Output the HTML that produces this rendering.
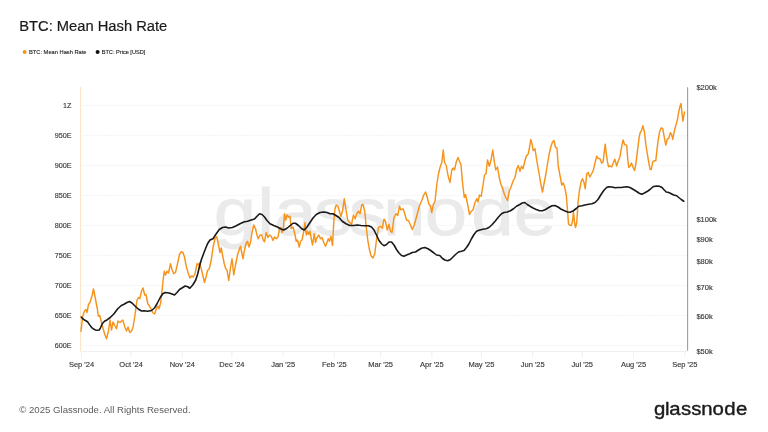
<!DOCTYPE html>
<html lang="en"><head><meta charset="utf-8"><title>BTC: Mean Hash Rate</title>
<style>
html,body{margin:0;padding:0;background:#fff;}
body{width:768px;height:432px;overflow:hidden;font-family:"Liberation Sans",sans-serif;}
svg{display:block;}
text{font-family:"Liberation Sans",sans-serif;}
</style></head><body>
<svg width="768" height="432" viewBox="0 0 768 432">
<rect width="768" height="432" fill="#fff"/>
<text id="wm" transform="scale(1.1387,1)" x="187.63 226.01 240.92 275.85 306.28 336.36 373.09 413.81 451.08" y="234.6" font-size="67" fill="#eaeaea" stroke="#eaeaea" stroke-width="0.8" stroke-linejoin="round">glassnode</text>
<line x1="82" x2="687" y1="105.4" y2="105.4" stroke="#f0f0f0" stroke-width="0.75" stroke-dasharray="1.3,0.4"/>
<line x1="82" x2="687" y1="135.4" y2="135.4" stroke="#f0f0f0" stroke-width="0.75" stroke-dasharray="1.3,0.4"/>
<line x1="82" x2="687" y1="165.4" y2="165.4" stroke="#f0f0f0" stroke-width="0.75" stroke-dasharray="1.3,0.4"/>
<line x1="82" x2="687" y1="195.4" y2="195.4" stroke="#f0f0f0" stroke-width="0.75" stroke-dasharray="1.3,0.4"/>
<line x1="82" x2="687" y1="225.4" y2="225.4" stroke="#f0f0f0" stroke-width="0.75" stroke-dasharray="1.3,0.4"/>
<line x1="82" x2="687" y1="255.4" y2="255.4" stroke="#f0f0f0" stroke-width="0.75" stroke-dasharray="1.3,0.4"/>
<line x1="82" x2="687" y1="285.4" y2="285.4" stroke="#f0f0f0" stroke-width="0.75" stroke-dasharray="1.3,0.4"/>
<line x1="82" x2="687" y1="315.4" y2="315.4" stroke="#f0f0f0" stroke-width="0.75" stroke-dasharray="1.3,0.4"/>
<line x1="82" x2="687" y1="345.4" y2="345.4" stroke="#f0f0f0" stroke-width="0.75" stroke-dasharray="1.3,0.4"/>
<line x1="80.6" x2="80.6" y1="87" y2="351.5" stroke="#fcdfba" stroke-width="0.9"/>
<line x1="687.6" x2="687.6" y1="87.3" y2="350.8" stroke="#989ba2" stroke-width="1.05"/>
<line x1="81" x2="687.5" y1="351.5" y2="351.5" stroke="#ececec" stroke-width="0.8"/>
<line x1="81.50" x2="81.50" y1="351.5" y2="357.5" stroke="#ebebeb" stroke-width="0.8"/>
<line x1="131.08" x2="131.08" y1="351.5" y2="357.5" stroke="#ebebeb" stroke-width="0.8"/>
<line x1="182.32" x2="182.32" y1="351.5" y2="357.5" stroke="#ebebeb" stroke-width="0.8"/>
<line x1="231.90" x2="231.90" y1="351.5" y2="357.5" stroke="#ebebeb" stroke-width="0.8"/>
<line x1="283.13" x2="283.13" y1="351.5" y2="357.5" stroke="#ebebeb" stroke-width="0.8"/>
<line x1="334.37" x2="334.37" y1="351.5" y2="357.5" stroke="#ebebeb" stroke-width="0.8"/>
<line x1="380.65" x2="380.65" y1="351.5" y2="357.5" stroke="#ebebeb" stroke-width="0.8"/>
<line x1="431.88" x2="431.88" y1="351.5" y2="357.5" stroke="#ebebeb" stroke-width="0.8"/>
<line x1="481.46" x2="481.46" y1="351.5" y2="357.5" stroke="#ebebeb" stroke-width="0.8"/>
<line x1="532.70" x2="532.70" y1="351.5" y2="357.5" stroke="#ebebeb" stroke-width="0.8"/>
<line x1="582.28" x2="582.28" y1="351.5" y2="357.5" stroke="#ebebeb" stroke-width="0.8"/>
<line x1="633.52" x2="633.52" y1="351.5" y2="357.5" stroke="#ebebeb" stroke-width="0.8"/>
<line x1="684.75" x2="684.75" y1="351.5" y2="357.5" stroke="#ebebeb" stroke-width="0.8"/>
<path d="M81.00,331.25 L82.75,316.00 L84.50,311.00 L86.00,309.50 L87.00,312.50 L88.50,304.50 L90.00,302.50 L92.00,296.00 L93.50,289.00 L94.70,295.00 L95.60,300.00 L97.20,308.00 L98.30,316.00 L99.75,315.50 L101.50,322.50 L103.50,330.00 L105.00,335.00 L106.50,338.75 L108.50,331.00 L110.00,320.00 L111.50,330.00 L113.00,322.00 L115.00,326.00 L116.50,328.75 L118.00,321.00 L120.00,322.50 L122.75,320.00 L125.00,327.50 L126.50,331.00 L128.00,327.00 L129.75,332.50 L131.50,331.00 L133.00,327.50 L135.00,315.00 L137.00,300.00 L138.50,297.50 L139.75,298.75 L141.50,291.00 L143.00,288.00 L144.75,295.00 L146.00,294.50 L147.75,303.75 L149.50,306.00 L151.50,310.00 L153.00,313.00 L154.50,314.00 L156.50,308.75 L157.75,306.00 L159.00,308.75 L160.60,303.00 L162.20,288.75 L163.60,276.25 L164.25,271.25 L165.50,275.00 L167.00,271.25 L168.50,273.00 L170.50,263.75 L172.00,269.50 L173.75,273.75 L175.50,272.50 L177.50,263.75 L179.50,254.50 L181.25,251.75 L183.00,252.50 L184.50,257.00 L186.25,266.25 L188.00,272.50 L190.00,278.00 L191.75,275.75 L193.25,277.00 L195.00,273.75 L197.00,263.75 L198.25,265.00 L199.50,263.00 L201.25,268.75 L203.00,276.25 L204.50,282.50 L206.25,276.25 L207.50,270.50 L209.25,268.75 L211.25,260.00 L213.25,246.25 L215.00,238.75 L216.75,236.75 L218.25,243.75 L220.00,252.50 L221.25,248.00 L222.50,255.00 L224.25,263.75 L225.75,268.75 L227.00,270.00 L228.75,280.50 L230.50,267.50 L232.00,258.75 L233.75,275.00 L235.50,265.00 L237.50,255.00 L239.50,248.75 L240.50,246.25 L241.75,252.50 L243.00,258.75 L244.50,250.00 L246.25,243.00 L247.50,241.25 L249.00,247.00 L250.50,242.50 L252.00,232.50 L253.75,225.00 L255.50,228.75 L257.00,235.00 L258.25,238.75 L260.00,235.00 L261.75,235.00 L263.25,240.00 L264.50,241.75 L266.25,232.50 L268.00,237.50 L269.50,235.00 L271.25,236.25 L273.00,240.50 L274.50,237.00 L276.25,238.75 L278.00,237.00 L279.50,228.75 L280.75,227.50 L282.00,232.50 L283.25,230.00 L284.50,213.75 L285.75,220.00 L287.00,215.00 L288.50,217.00 L290.00,216.25 L291.25,228.75 L293.00,227.00 L294.50,232.50 L296.25,241.25 L297.50,240.00 L299.25,247.00 L300.50,241.25 L302.00,240.00 L303.75,231.25 L305.00,222.50 L306.25,235.00 L307.50,231.25 L308.75,234.50 L310.00,231.25 L311.25,238.75 L312.50,245.00 L314.25,233.75 L315.50,242.50 L317.00,237.50 L318.75,235.00 L320.50,238.75 L322.00,237.50 L323.75,242.50 L325.50,246.25 L327.00,242.50 L328.25,238.75 L329.50,241.25 L331.00,236.25 L332.50,245.50 L333.75,222.50 L335.00,208.75 L336.25,205.00 L338.00,206.25 L339.75,212.50 L341.00,216.25 L342.75,210.00 L344.25,198.75 L346.00,210.00 L347.75,220.00 L349.75,222.50 L351.50,224.50 L353.50,215.00 L355.25,218.75 L356.75,213.75 L358.50,211.25 L360.00,213.75 L361.75,205.00 L363.00,204.50 L364.75,211.25 L366.00,225.00 L367.75,240.00 L369.25,248.75 L371.00,255.75 L373.00,258.00 L374.75,253.75 L376.50,240.00 L378.50,227.50 L380.25,226.25 L382.25,228.00 L384.00,219.25 L385.50,221.25 L387.25,230.00 L389.00,224.50 L390.50,231.25 L392.00,232.50 L394.00,217.50 L396.00,213.75 L397.75,215.50 L399.50,206.25 L401.00,210.00 L403.00,208.75 L404.75,213.75 L406.50,220.00 L408.50,220.75 L410.25,224.50 L412.25,229.50 L414.25,225.00 L416.00,218.75 L418.00,211.25 L419.75,205.00 L422.00,200.00 L423.75,195.00 L425.50,192.00 L427.00,196.25 L428.75,203.75 L430.50,206.25 L431.75,212.50 L433.25,205.00 L435.00,201.25 L436.75,185.00 L438.25,175.00 L440.00,167.50 L441.75,162.50 L443.25,150.00 L444.50,162.50 L446.25,165.50 L448.00,175.50 L450.00,182.50 L451.75,170.00 L453.25,168.00 L454.50,170.00 L456.25,162.00 L458.00,157.50 L459.50,161.25 L461.00,165.00 L462.50,182.50 L464.25,197.50 L465.50,194.50 L467.50,203.75 L469.50,214.50 L471.25,211.25 L473.00,210.00 L475.00,202.50 L476.75,198.75 L478.00,202.00 L479.50,195.00 L481.25,196.25 L483.00,185.00 L484.50,175.00 L486.00,173.75 L487.50,160.00 L489.25,166.25 L491.00,160.00 L492.75,150.00 L494.25,161.25 L495.75,170.00 L497.50,167.00 L499.25,177.50 L500.75,183.75 L502.50,188.00 L504.25,193.75 L505.75,197.50 L507.50,200.50 L509.25,191.25 L511.25,186.25 L513.00,181.25 L515.00,177.50 L516.75,168.75 L518.25,165.50 L520.00,171.25 L521.50,166.25 L523.00,168.75 L524.50,162.50 L526.25,156.25 L528.25,153.75 L529.50,147.50 L530.75,139.50 L532.00,143.75 L533.25,150.50 L535.00,148.75 L536.50,158.75 L538.00,167.50 L539.50,176.25 L541.00,185.00 L542.50,192.00 L544.00,183.75 L545.75,175.00 L547.50,163.75 L549.25,153.75 L551.00,146.25 L552.50,142.00 L554.00,140.50 L555.50,147.50 L557.00,148.00 L558.25,166.25 L560.00,175.50 L561.75,185.00 L563.25,183.00 L564.50,186.25 L566.25,195.00 L567.50,210.00 L568.50,223.75 L569.50,225.00 L571.25,225.50 L572.50,221.25 L573.50,212.00 L574.50,222.50 L575.50,227.50 L576.75,222.50 L578.00,202.50 L579.50,190.00 L581.25,181.25 L582.50,178.75 L584.00,182.50 L585.25,188.75 L586.75,173.50 L588.25,172.50 L589.80,177.00 L591.70,173.75 L593.30,170.20 L595.00,163.00 L596.70,156.25 L598.10,158.30 L600.00,158.75 L601.70,163.30 L603.10,161.90 L604.20,152.50 L605.20,144.20 L606.25,153.50 L607.50,161.90 L608.50,166.70 L610.00,166.00 L611.70,167.00 L613.10,163.30 L614.80,159.20 L616.70,166.00 L618.30,160.80 L620.00,156.70 L621.50,147.30 L623.10,140.00 L624.60,144.60 L626.70,145.20 L627.70,158.75 L628.75,167.50 L630.20,166.00 L631.50,163.00 L632.90,167.00 L634.60,170.60 L636.00,163.00 L637.50,150.40 L639.20,136.90 L640.20,132.70 L641.70,130.00 L642.90,125.80 L644.40,131.70 L645.80,144.20 L647.10,152.50 L648.50,160.80 L650.00,169.20 L651.25,169.60 L652.70,161.90 L654.20,160.80 L655.80,160.80 L656.90,150.40 L658.30,139.00 L659.60,131.70 L661.00,127.90 L662.70,128.50 L664.20,136.90 L665.80,145.20 L667.30,139.00 L668.75,138.30 L670.40,132.70 L671.70,134.80 L672.70,139.40 L674.20,131.70 L675.80,125.40 L677.30,120.20 L678.75,111.90 L680.00,106.25 L681.00,103.50 L682.10,114.00 L682.90,121.25 L683.75,116.00 L684.60,111.90" fill="none" stroke="#f7931a" stroke-width="1.45" stroke-linejoin="round" stroke-linecap="round"/>
<path d="M81.20,317.00 L83.00,319.00 L85.00,320.30 L87.50,321.80 L89.50,324.60 L91.50,327.30 L93.50,329.00 L95.50,330.00 L97.50,330.30 L99.20,330.00 L100.50,327.80 L102.40,323.50 L104.50,321.30 L107.30,319.70 L110.25,317.50 L114.00,313.75 L117.75,308.75 L121.00,305.75 L124.00,304.25 L127.00,302.50 L129.50,301.50 L132.00,303.00 L135.25,306.25 L138.50,309.25 L141.50,311.00 L144.00,310.75 L147.75,311.25 L151.50,310.50 L154.50,308.00 L157.00,303.75 L160.25,297.50 L162.75,293.75 L165.25,292.50 L169.00,293.00 L172.00,294.00 L174.50,295.00 L177.00,292.50 L179.50,289.50 L182.75,287.50 L185.25,286.00 L187.75,286.75 L189.75,288.25 L192.75,285.00 L195.75,280.00 L197.75,273.75 L199.50,266.25 L201.25,260.00 L204.50,251.25 L207.50,243.75 L210.00,240.00 L213.00,238.75 L216.25,233.75 L219.25,229.50 L222.50,227.50 L225.50,227.00 L228.75,228.00 L232.50,227.50 L236.25,225.75 L240.00,223.75 L243.75,222.00 L247.50,221.25 L251.25,220.00 L254.50,219.00 L257.00,216.25 L259.50,213.75 L262.00,214.50 L264.50,217.00 L267.00,220.50 L270.00,223.75 L273.75,225.50 L277.50,227.00 L280.50,228.75 L283.75,230.00 L287.00,228.25 L290.00,225.75 L293.00,223.25 L295.50,223.25 L298.75,225.75 L301.75,228.75 L304.25,230.00 L307.00,227.00 L310.00,222.50 L313.00,218.00 L316.25,214.50 L320.00,212.50 L323.75,212.00 L327.00,212.50 L330.00,213.75 L333.00,213.75 L336.25,215.75 L339.00,217.50 L342.25,221.25 L346.00,223.75 L349.75,225.50 L353.50,225.50 L357.25,225.00 L361.00,225.50 L364.75,225.75 L368.50,225.75 L371.50,227.00 L374.00,230.00 L376.50,235.00 L379.00,240.50 L381.50,243.75 L384.00,245.75 L386.50,244.50 L389.00,242.00 L391.50,242.00 L394.00,245.00 L396.50,249.50 L399.00,253.00 L401.50,255.50 L404.00,256.25 L406.50,255.00 L409.75,253.75 L412.25,252.50 L415.50,252.00 L418.50,250.00 L421.50,248.25 L424.75,247.50 L428.00,248.75 L431.00,250.75 L434.00,253.00 L436.50,255.00 L439.75,255.50 L442.25,258.25 L444.75,260.00 L447.75,260.75 L450.50,259.50 L453.00,257.00 L455.50,254.50 L458.50,252.00 L461.50,251.25 L464.00,250.50 L466.50,247.50 L469.00,243.75 L471.50,238.75 L474.00,234.50 L476.50,231.25 L479.75,230.00 L483.00,229.25 L486.00,228.75 L489.00,227.50 L492.25,224.50 L495.50,220.75 L498.50,217.00 L501.50,213.75 L504.00,212.50 L507.25,212.00 L510.50,210.75 L513.50,208.75 L516.50,206.25 L519.75,204.50 L522.25,203.00 L524.75,202.50 L527.25,204.50 L530.00,206.25 L533.00,208.00 L536.25,209.50 L539.50,210.75 L542.50,210.75 L545.50,209.50 L548.75,207.50 L552.00,205.75 L555.00,205.50 L558.00,207.00 L561.25,209.25 L564.50,210.75 L567.50,212.00 L570.00,212.25 L573.00,211.00 L576.25,208.50 L578.75,206.25 L582.00,205.75 L585.00,205.00 L588.75,204.25 L592.00,203.75 L595.00,202.50 L598.00,199.50 L600.75,195.00 L603.75,190.50 L606.60,187.50 L608.50,186.80 L612.00,187.00 L615.00,187.75 L618.00,187.50 L621.25,187.50 L624.25,187.00 L627.00,186.75 L630.00,187.50 L633.00,189.25 L636.25,191.25 L639.25,193.25 L641.75,194.25 L644.50,193.00 L647.50,191.25 L650.00,189.50 L653.00,186.75 L656.25,186.00 L659.50,186.25 L662.00,187.50 L664.25,190.00 L666.25,192.00 L668.75,192.50 L671.25,193.75 L673.75,195.00 L676.75,195.75 L678.75,197.50 L681.25,199.50 L683.75,201.25" fill="none" stroke="#1a1a1a" stroke-width="1.6" stroke-linejoin="round" stroke-linecap="round"/>
<text class="yl" x="71.5" y="108.0" font-size="7.2" fill="#3a3a3a" stroke="#3a3a3a" stroke-width="0.15" text-anchor="end">1Z</text>
<text class="yl" x="71.5" y="138.0" font-size="7.2" fill="#3a3a3a" stroke="#3a3a3a" stroke-width="0.15" text-anchor="end">950E</text>
<text class="yl" x="71.5" y="168.0" font-size="7.2" fill="#3a3a3a" stroke="#3a3a3a" stroke-width="0.15" text-anchor="end">900E</text>
<text class="yl" x="71.5" y="198.0" font-size="7.2" fill="#3a3a3a" stroke="#3a3a3a" stroke-width="0.15" text-anchor="end">850E</text>
<text class="yl" x="71.5" y="228.0" font-size="7.2" fill="#3a3a3a" stroke="#3a3a3a" stroke-width="0.15" text-anchor="end">800E</text>
<text class="yl" x="71.5" y="258.0" font-size="7.2" fill="#3a3a3a" stroke="#3a3a3a" stroke-width="0.15" text-anchor="end">750E</text>
<text class="yl" x="71.5" y="288.0" font-size="7.2" fill="#3a3a3a" stroke="#3a3a3a" stroke-width="0.15" text-anchor="end">700E</text>
<text class="yl" x="71.5" y="318.0" font-size="7.2" fill="#3a3a3a" stroke="#3a3a3a" stroke-width="0.15" text-anchor="end">650E</text>
<text class="yl" x="71.5" y="348.0" font-size="7.2" fill="#3a3a3a" stroke="#3a3a3a" stroke-width="0.15" text-anchor="end">600E</text>
<text class="rl" x="696.4" y="89.7" font-size="7.5" fill="#3a3a3a" stroke="#3a3a3a" stroke-width="0.15">$200k</text>
<text class="rl" x="696.4" y="221.9" font-size="7.5" fill="#3a3a3a" stroke="#3a3a3a" stroke-width="0.15">$100k</text>
<text class="rl" x="696.4" y="242.0" font-size="7.5" fill="#3a3a3a" stroke="#3a3a3a" stroke-width="0.15">$90k</text>
<text class="rl" x="696.4" y="264.4" font-size="7.5" fill="#3a3a3a" stroke="#3a3a3a" stroke-width="0.15">$80k</text>
<text class="rl" x="696.4" y="289.8" font-size="7.5" fill="#3a3a3a" stroke="#3a3a3a" stroke-width="0.15">$70k</text>
<text class="rl" x="696.4" y="319.2" font-size="7.5" fill="#3a3a3a" stroke="#3a3a3a" stroke-width="0.15">$60k</text>
<text class="rl" x="696.4" y="353.9" font-size="7.5" fill="#3a3a3a" stroke="#3a3a3a" stroke-width="0.15">$50k</text>
<text class="xl" x="81.50" y="367.2" font-size="7.5" fill="#3a3a3a" stroke="#3a3a3a" stroke-width="0.15" text-anchor="middle">Sep '24</text>
<text class="xl" x="131.08" y="367.2" font-size="7.5" fill="#3a3a3a" stroke="#3a3a3a" stroke-width="0.15" text-anchor="middle">Oct '24</text>
<text class="xl" x="182.32" y="367.2" font-size="7.5" fill="#3a3a3a" stroke="#3a3a3a" stroke-width="0.15" text-anchor="middle">Nov '24</text>
<text class="xl" x="231.90" y="367.2" font-size="7.5" fill="#3a3a3a" stroke="#3a3a3a" stroke-width="0.15" text-anchor="middle">Dec '24</text>
<text class="xl" x="283.13" y="367.2" font-size="7.5" fill="#3a3a3a" stroke="#3a3a3a" stroke-width="0.15" text-anchor="middle">Jan '25</text>
<text class="xl" x="334.37" y="367.2" font-size="7.5" fill="#3a3a3a" stroke="#3a3a3a" stroke-width="0.15" text-anchor="middle">Feb '25</text>
<text class="xl" x="380.65" y="367.2" font-size="7.5" fill="#3a3a3a" stroke="#3a3a3a" stroke-width="0.15" text-anchor="middle">Mar '25</text>
<text class="xl" x="431.88" y="367.2" font-size="7.5" fill="#3a3a3a" stroke="#3a3a3a" stroke-width="0.15" text-anchor="middle">Apr '25</text>
<text class="xl" x="481.46" y="367.2" font-size="7.5" fill="#3a3a3a" stroke="#3a3a3a" stroke-width="0.15" text-anchor="middle">May '25</text>
<text class="xl" x="532.70" y="367.2" font-size="7.5" fill="#3a3a3a" stroke="#3a3a3a" stroke-width="0.15" text-anchor="middle">Jun '25</text>
<text class="xl" x="582.28" y="367.2" font-size="7.5" fill="#3a3a3a" stroke="#3a3a3a" stroke-width="0.15" text-anchor="middle">Jul '25</text>
<text class="xl" x="633.52" y="367.2" font-size="7.5" fill="#3a3a3a" stroke="#3a3a3a" stroke-width="0.15" text-anchor="middle">Aug '25</text>
<text class="xl" x="684.75" y="367.2" font-size="7.5" fill="#3a3a3a" stroke="#3a3a3a" stroke-width="0.15" text-anchor="middle">Sep '25</text>
<text id="title" x="19.2" y="31.3" font-size="14.72" fill="#1b1b1b" stroke="#1b1b1b" stroke-width="0.2">BTC: Mean Hash Rate</text>
<circle cx="24.6" cy="51.9" r="2" fill="#f7931a"/>
<text id="lg1" x="29" y="54.1" font-size="5.72" fill="#222" stroke="#222" stroke-width="0.12">BTC: Mean Hash Rate</text>
<circle cx="97.6" cy="51.9" r="2" fill="#111"/>
<text id="lg2" x="101.7" y="54.1" font-size="5.62" fill="#222" stroke="#222" stroke-width="0.12">BTC: Price [USD]</text>
<text id="foot" x="19.3" y="413" font-size="9.6" fill="#5c5c5c">© 2025 Glassnode. All Rights Reserved.</text>
<text id="logo" transform="scale(1.0837,1)" x="603.44 613.57 617.61 628.49 637.94 646.99 657.41 668.27 679.10" y="414.7" font-size="18.8" fill="#1b1b1b" stroke="#1b1b1b" stroke-width="0.4" stroke-linejoin="round">glassnode</text>
</svg>
</body></html>
